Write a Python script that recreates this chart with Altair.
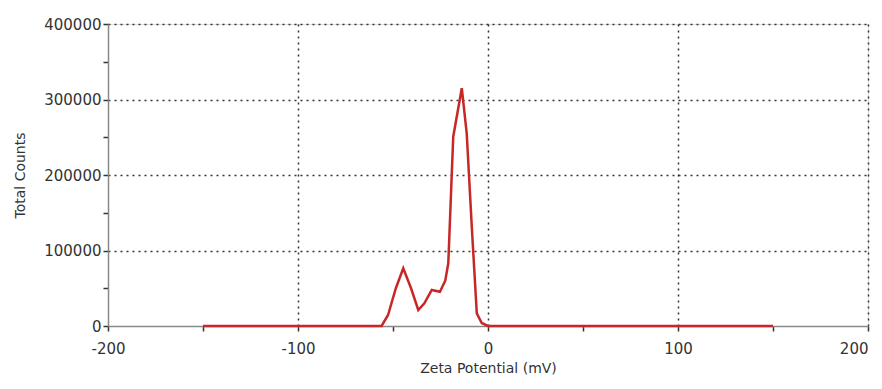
import altair as alt
import pandas as pd

zeta = [-150, -56, -52.6, -48.5, -44.6, -40.5, -36.7, -33.5, -29.6, -25.3, -22.5, -20.9, -18.3, -13.8, -11.2, -8.5, -5.9, -3.3, 0, 150]
counts = [0, 0, 14600, 50000, 76400, 50000, 21200, 30000, 47700, 45400, 60000, 83000, 250700, 315000, 255000, 130000, 16800, 4000, 0, 0]

df = pd.DataFrame({"zeta": zeta, "counts": counts})

FONT = "DejaVu Sans"

x_axis = alt.Axis(
    values=[-200, -150, -100, -50, 0, 50, 100, 150, 200],
    labelExpr="datum.value % 100 === 0 ? toString(datum.value) : ''",
    title="Zeta Potential (mV)",
    titleFont=FONT, titleFontSize=14, titleFontWeight="normal", titleColor="#333",
    titlePadding=5,
    labelFont=FONT, labelFontSize=15, labelColor="#333", labelPadding=10,
    labelFlush=False, labelOverlap=False,
    labelAlign={"condition": {"test": "datum.value === 200", "value": "right"}, "value": "center"},
    domainColor="#888", domainWidth=1.5,
    tickColor="#333", tickSize=5, tickWidth=1.5,
    grid=True,
    gridColor="#333", gridDash=[2, 4], gridWidth=1.5,
    gridOpacity={"condition": {"test": "datum.value % 100 === 0 && datum.value > -200", "value": 1}, "value": 0},
)

y_axis = alt.Axis(
    values=[0, 50000, 100000, 150000, 200000, 250000, 300000, 350000, 400000],
    labelExpr="datum.value % 100000 === 0 ? toString(datum.value) : ''",
    title="Total Counts",
    titleFont=FONT, titleFontSize=14, titleFontWeight="normal", titleColor="#333",
    titleX=-88, titleY=151, titleAngle=-90, titleAlign="center", titleBaseline="middle",
    labelFont=FONT, labelFontSize=15, labelColor="#333", labelPadding=2,
    labelOverlap=False, labelFlush=False,
    domainColor="#888", domainWidth=1.5,
    tickColor="#333", tickSize=5, tickWidth=1.5,
    grid=True,
    gridColor="#333", gridDash=[2, 4], gridWidth=1.5,
    gridOpacity={"condition": {"test": "datum.value % 100000 === 0 && datum.value > 0", "value": 1}, "value": 0},
)

chart = alt.Chart(df).mark_line(color="#c62828", strokeWidth=2.5).encode(
    x=alt.X("zeta:Q", scale=alt.Scale(domain=[-200, 200], nice=False), axis=x_axis),
    y=alt.Y("counts:Q", scale=alt.Scale(domain=[0, 400000], nice=False), axis=y_axis),
).properties(
    width=760,
    height=302,
    autosize=alt.AutoSizeParams(type="none"),
    padding={"left": 100, "top": 16, "right": 6, "bottom": 55},
).configure_view(stroke=None).configure(background="white")

chart.save("out.html", embed_options={"renderer": "svg", "actions": False})
